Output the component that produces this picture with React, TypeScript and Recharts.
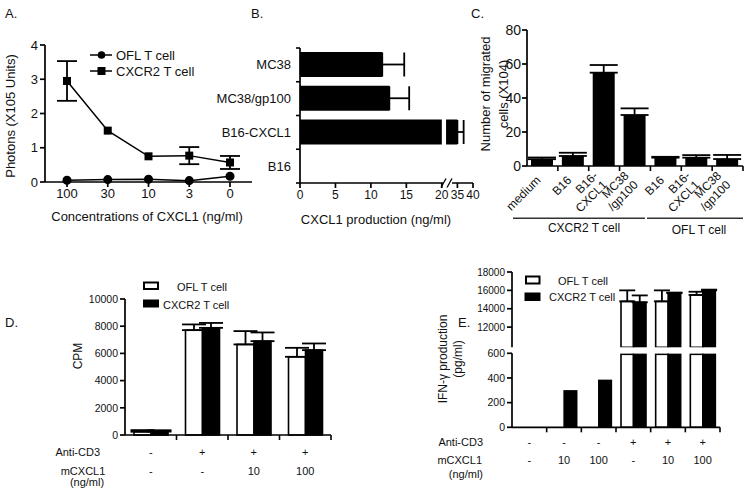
import React from 'react'
import { LineChart, Line, BarChart, Bar, XAxis, YAxis, ErrorBar } from 'recharts'

const FONT = '"Liberation Sans", Arial, sans-serif'
const INK = '#111'
const AX = { stroke: '#000', strokeWidth: 1.7 }

// A. photons vs CXCL1 concentration
const concLabels = ['100', '30', '10', '3', '0']
const oflPhotons = [0.05, 0.07, 0.08, 0.04, 0.17]
const cxcr2Photons = [2.95, 1.5, 0.75, 0.77, 0.57]
const cxcr2PhotonsErr = [0.58, 0, 0, 0.25, 0.19]

// B. CXCL1 production by tumour line (broken axis 20 // 35)
const tumorLines = ['MC38', 'MC38/gp100', 'B16-CXCL1', 'B16']
const cxcl1Prod = [11.6, 12.6, 35.0, 0]
const cxcl1ProdErr = [3.1, 2.8, 2.0, 0]
const prodTicks = [0, 5, 10, 15, 20, 35, 40]
const BREAK_LO = 20
const BREAK_GAP_END = 20.6

// C. migrated cells
const migConds = ['medium', 'B16', 'B16-\nCXCL1', 'MC38\n/gp100', 'B16', 'B16-\nCXCL1', 'MC38\n/gp100']
const migrated = [4, 5.9, 54.9, 30, 4.9, 4.9, 4.1]
const migratedErr = [1.0, 1.9, 4.5, 3.9, 0.5, 1.5, 2.4]

// D. proliferation CPM
const dAnti = ['-', '+', '+', '+']
const dCxcl = ['-', '-', '10', '100']
const oflCpm = [240, 7710, 6660, 5750]
const oflCpmErr = [120, 420, 980, 660]
const cxcr2Cpm = [250, 7880, 6900, 6240]
const cxcr2CpmErr = [100, 360, 640, 490]

// E. IFN-gamma production (broken axis 600 // 10000)
const eAnti = ['-', '-', '-', '+', '+', '+']
const eCxcl = ['-', '10', '100', '-', '10', '100']
const oflIfn = [0, 0, 0, 14800, 14800, 15500]
const oflIfnErr = [0, 0, 0, 1200, 1200, 350]
const cxcr2Ifn = [0, 295, 380, 14700, 15700, 16000]
const cxcr2IfnErr = [0, 0, 0, 750, 60, 80]
const E_UPPER_MIN = 9800

const brk = (v: number) => (v <= BREAK_LO ? v : 22.2 + (v - 35) * 0.44)

const aData = concLabels.map((c, i) => ({
  c,
  ofl: oflPhotons[i],
  cx: cxcr2Photons[i],
  cxErr: cxcr2PhotonsErr[i] || null,
}))

const bData = tumorLines.map((name, i) => {
  const v = cxcl1Prod[i]
  return {
    name,
    raw: v,
    v: brk(v),
    err: cxcl1ProdErr[i] ? [0, brk(v + cxcl1ProdErr[i]) - brk(v)] : null,
  }
})

const cData = migConds.map((k, i) => ({ k: i, v: migrated[i], err: [0, migratedErr[i]] }))

const dData = dAnti.map((a, i) => ({
  k: i,
  ofl: oflCpm[i],
  oflErr: [0, oflCpmErr[i]],
  cx: cxcr2Cpm[i],
  cxErr: [0, cxcr2CpmErr[i]],
}))

const eLow = eAnti.map((a, i) => ({ k: i, ofl: oflIfn[i], cx: cxcr2Ifn[i] }))
const eHigh = eAnti.map((a, i) => ({
  k: i,
  ofl: oflIfn[i] >= E_UPPER_MIN ? oflIfn[i] : null,
  oflErr: oflIfn[i] >= E_UPPER_MIN ? [0, oflIfnErr[i]] : null,
  cx: cxcr2Ifn[i] >= E_UPPER_MIN ? cxcr2Ifn[i] : null,
  cxErr: cxcr2Ifn[i] >= E_UPPER_MIN ? [0, cxcr2IfnErr[i]] : null,
}))

function SquareDot(p: any) {
  return <rect key={`sq-${p.index}`} x={p.cx - 4} y={p.cy - 4} width={8} height={8} fill="#000" />
}

function BrokenBar(p: any) {
  const { x, y, width, height, payload } = p
  if (!width || width <= 0) return null
  if (payload.raw <= BREAK_LO) return <rect x={x} y={y} width={width} height={height} fill="#000" />
  const k = width / payload.v
  const g1 = x + k * BREAK_LO
  const g2 = x + k * BREAK_GAP_END
  return (
    <g>
      <rect x={x} y={y} width={g1 - x} height={height} fill="#000" />
      <rect x={g2} y={y} width={x + width - g2} height={height} fill="#000" />
    </g>
  )
}

const clampedBar = (top: number) => (p: any) => {
  const yy = Math.max(p.y, top)
  const h = p.y + p.height - yy
  if (!(h > 0)) return null
  return <rect x={p.x} y={yy} width={p.width} height={h} fill={p.fill} stroke="#000" strokeWidth={1.6} />
}

const outlinedBar = (p: any) => {
  if (!(p.height > 0)) return null
  return <rect x={p.x} y={p.y} width={p.width} height={p.height} fill={p.fill} stroke="#000" strokeWidth={1.6} />
}

const B_BW = 135 / 4
function TumorTick(p: any) {
  const { x, y, index, payload } = p
  return (
    <g>
      <line x1={x - 4} y1={y - B_BW / 2} x2={x} y2={y - B_BW / 2} stroke="#000" strokeWidth={1.6} />
      {index === tumorLines.length - 1 && (
        <line x1={x - 4} y1={y + B_BW / 2} x2={x} y2={y + B_BW / 2} stroke="#000" strokeWidth={1.6} />
      )}
      <text x={x - 9} y={y + 4.5} textAnchor="end" fontSize={13} fill={INK}>
        {payload.value}
      </text>
    </g>
  )
}

const C_BW = 216 / 7
function MigTick(p: any) {
  const { x, y, index } = p
  const lines = migConds[index].split('\n')
  const n = lines.length
  return (
    <g>
      <line x1={x + C_BW / 2} y1={y} x2={x + C_BW / 2} y2={y + 5} stroke="#000" strokeWidth={1.6} />
      <g transform={`translate(${x - 1},${y + 15}) rotate(-45)`}>
        {lines.map((l, i) => (
          <text key={i} x={0} y={(i - (n - 1) / 2) * 13} textAnchor="end" fontSize={12} fill={INK}>
            {l}
          </text>
        ))}
      </g>
    </g>
  )
}

const rowTick = (r1: string[], r2: string[], bw: number, d1: number, d2: number) => (p: any) => {
  const { x, y, index } = p
  return (
    <g>
      <line x1={x + bw / 2} y1={y} x2={x + bw / 2} y2={y + 5} stroke="#000" strokeWidth={1.6} />
      <text x={x} y={y + d1} textAnchor="middle" fontSize={11} fill={INK}>
        {r1[index]}
      </text>
      <text x={x} y={y + d2} textAnchor="middle" fontSize={11} fill={INK}>
        {r2[index]}
      </text>
    </g>
  )
}

const pos = (left: number, top: number): React.CSSProperties => ({ position: 'absolute', left, top })

export default function App() {
  return (
    <div style={{ position: 'absolute', left: 0, top: 0, width: 750, height: 492, background: '#fff', fontFamily: FONT }}>
      {/* A */}
      <div style={pos(0, 0)}>
        <LineChart width={260} height={240} data={aData} margin={{ top: 45, right: 8, bottom: 28, left: 0 }}>
          <XAxis dataKey="c" height={30} padding={{ left: 22, right: 22 }} axisLine={AX} tickLine={AX} tickSize={5} tick={{ fontSize: 13, fill: INK }} interval={0} />
          <YAxis width={45} domain={[0, 4]} ticks={[0, 1, 2, 3, 4]} axisLine={AX} tickLine={AX} tickSize={5} tick={{ fontSize: 13, fill: INK }} />
          <Line dataKey="ofl" type="linear" stroke="#000" strokeWidth={1.5} dot={{ r: 3.8, fill: '#000', stroke: '#000' }} isAnimationActive={false} />
          <Line dataKey="cx" type="linear" stroke="#000" strokeWidth={1.5} dot={SquareDot} isAnimationActive={false}>
            <ErrorBar dataKey="cxErr" width={10} stroke="#000" strokeWidth={1.8} />
          </Line>
        </LineChart>
      </div>

      {/* B */}
      <div style={pos(200, 0)}>
        <BarChart width={280} height={240} data={bData} layout="vertical" margin={{ top: 48, right: 7, bottom: 27, left: 0 }}>
          <XAxis
            type="number"
            dataKey="v"
            height={30}
            domain={[0, brk(40)]}
            ticks={prodTicks.map(brk)}
            tickFormatter={(v: number, i: number) => String(prodTicks[i])}
            interval={0}
            axisLine={AX}
            tickLine={AX}
            tickSize={5}
            tick={{ fontSize: 12, fill: INK }}
          />
          <YAxis type="category" dataKey="name" width={100} axisLine={AX} tickLine={false} tickSize={0} tickMargin={0} tick={TumorTick} interval={0} />
          <Bar dataKey="v" barSize={25} fill="#000" shape={BrokenBar} isAnimationActive={false}>
            <ErrorBar dataKey="err" width={12} stroke="#000" strokeWidth={1.8} direction="x" />
          </Bar>
        </BarChart>
      </div>

      {/* C */}
      <div style={pos(460, 0)}>
        <BarChart width={290} height={240} data={cData} margin={{ top: 30, right: 7, bottom: 14, left: 0 }}>
          <XAxis dataKey="k" height={60} axisLine={AX} tickLine={false} tickSize={0} tickMargin={0} tick={MigTick} interval={0} />
          <YAxis width={67} domain={[0, 80]} ticks={[0, 20, 40, 60, 80]} axisLine={AX} tickLine={AX} tickSize={5} tickMargin={1} tick={{ fontSize: 14, fill: INK }} />
          <Bar dataKey="v" barSize={22} fill="#000" isAnimationActive={false}>
            <ErrorBar dataKey="err" width={14} stroke="#000" strokeWidth={1.8} />
          </Bar>
        </BarChart>
      </div>

      {/* D */}
      <div style={pos(0, 260)}>
        <BarChart width={340} height={232} data={dData} barGap={0} margin={{ top: 39, right: 9, bottom: 7, left: 0 }}>
          <XAxis dataKey="k" height={50} axisLine={AX} tickLine={false} tickSize={0} tickMargin={0} tick={rowTick(dAnti, dCxcl, 206 / 4, 21, 39.5)} interval={0} />
          <YAxis width={125} domain={[0, 10000]} ticks={[0, 2000, 4000, 6000, 8000, 10000]} axisLine={AX} tickLine={AX} tickSize={5} tick={{ fontSize: 10.5, fill: INK }} />
          <Bar dataKey="ofl" barSize={17} fill="#fff" shape={outlinedBar} isAnimationActive={false}>
            <ErrorBar dataKey="oflErr" width={12} stroke="#000" strokeWidth={1.8} />
          </Bar>
          <Bar dataKey="cx" barSize={17} fill="#000" shape={outlinedBar} isAnimationActive={false}>
            <ErrorBar dataKey="cxErr" width={12} stroke="#000" strokeWidth={1.8} />
          </Bar>
        </BarChart>
      </div>

      {/* E upper segment */}
      <div style={pos(370, 262)}>
        <BarChart width={380} height={86} data={eHigh} barGap={0} margin={{ top: 10, right: 30, bottom: 0.7, left: 0 }}>
          <XAxis dataKey="k" hide />
          <YAxis width={142} domain={[E_UPPER_MIN, 18000]} allowDataOverflow ticks={[10000, 12000, 14000, 16000, 18000]} axisLine={AX} tickLine={AX} tickSize={5} tick={{ fontSize: 10, fill: INK }} />
          <Bar dataKey="ofl" barSize={12.5} fill="#fff" shape={outlinedBar} isAnimationActive={false}>
            <ErrorBar dataKey="oflErr" width={8} stroke="#000" strokeWidth={1.8} />
          </Bar>
          <Bar dataKey="cx" barSize={12.5} fill="#000" shape={outlinedBar} isAnimationActive={false}>
            <ErrorBar dataKey="cxErr" width={8} stroke="#000" strokeWidth={1.8} />
          </Bar>
        </BarChart>
      </div>

      {/* E lower segment */}
      <div style={pos(370, 348)}>
        <BarChart width={380} height={144} data={eLow} barGap={0} margin={{ top: 5.3, right: 30, bottom: 14.7, left: 0 }}>
          <XAxis dataKey="k" height={50} axisLine={AX} tickLine={false} tickSize={0} tickMargin={0} tick={rowTick(eAnti, eCxcl, 208 / 6, 18.2, 36.5)} interval={0} />
          <YAxis width={142} domain={[0, 600]} allowDataOverflow ticks={[0, 200, 400, 600]} axisLine={AX} tickLine={AX} tickSize={5} tick={{ fontSize: 10.5, fill: INK }} />
          <Bar dataKey="ofl" barSize={12.5} fill="#fff" shape={clampedBar(6.3)} isAnimationActive={false} />
          <Bar dataKey="cx" barSize={12.5} fill="#000" shape={clampedBar(6.3)} isAnimationActive={false} />
        </BarChart>
      </div>

      {/* titles, legends and break marks */}
      <svg width={750} height={492} style={{ position: 'absolute', left: 0, top: 0, pointerEvents: 'none' }} fontFamily={FONT} fill={INK}>
        <text x={5} y={18} fontSize={13}>A.</text>
        <text x={251} y={18} fontSize={13}>B.</text>
        <text x={471} y={18} fontSize={13}>C.</text>
        <text x={5} y={327} fontSize={13}>D.</text>
        <text x={458} y={327} fontSize={13}>E.</text>

        {/* A */}
        <line x1={90} y1={55} x2={112} y2={55} stroke="#000" strokeWidth={1.5} />
        <circle cx={101.5} cy={55} r={3.8} fill="#000" />
        <text x={116} y={59.5} fontSize={13}>OFL T cell</text>
        <line x1={90} y1={71} x2={112} y2={71} stroke="#000" strokeWidth={1.5} />
        <rect x={97.5} y={67} width={8} height={8} fill="#000" />
        <text x={116} y={75.5} fontSize={13}>CXCR2 T cell</text>
        <text transform="translate(14.5,116) rotate(-90)" textAnchor="middle" fontSize={13}>Photons (X105 Units)</text>
        <text x={147} y={221} textAnchor="middle" fontSize={13}>Concentrations of CXCL1 (ng/ml)</text>

        {/* B */}
        <text x={376} y={223.5} textAnchor="middle" fontSize={13}>CXCL1 production (ng/ml)</text>
        <rect x={443} y={179} width={9} height={8} fill="#fff" />
        <line x1={441} y1={187.5} x2={446} y2={178.5} stroke="#000" strokeWidth={1.3} />
        <line x1={447} y1={187.5} x2={452} y2={178.5} stroke="#000" strokeWidth={1.3} />

        {/* C */}
        <text transform="translate(489.5,94) rotate(-90)" textAnchor="middle" fontSize={13}>Number of migrated</text>
        <text transform="translate(507.5,94) rotate(-90)" textAnchor="middle" fontSize={13}>cells (X104)</text>
        <line x1={513} y1={218.3} x2={645} y2={218.3} stroke="#333" strokeWidth={1.4} />
        <line x1={647} y1={218.3} x2={743} y2={218.3} stroke="#333" strokeWidth={1.4} />
        <text x={584} y={231.5} textAnchor="middle" fontSize={12}>CXCR2 T cell</text>
        <text x={699} y={234} textAnchor="middle" fontSize={12}>OFL T cell</text>

        {/* D */}
        <text transform="translate(82,356) rotate(-90)" textAnchor="middle" fontSize={12}>CPM</text>
        <rect x={144} y={282.5} width={14} height={6.5} fill="#fff" stroke="#000" strokeWidth={2} />
        <text x={177} y={291} fontSize={11}>OFL T cell</text>
        <rect x={143} y={299.5} width={16} height={8} fill="#000" />
        <text x={163} y={309} fontSize={11}>CXCR2 T cell</text>
        <text x={100} y={455.5} textAnchor="end" fontSize={11}>Anti-CD3</text>
        <text x={83} y={474.5} textAnchor="middle" fontSize={11}>mCXCL1</text>
        <text x={87} y={486} textAnchor="middle" fontSize={11}>(ng/ml)</text>

        {/* E */}
        <text transform="translate(446.5,359) rotate(-90)" textAnchor="middle" fontSize={12}>IFN-γ production</text>
        <text transform="translate(462,359) rotate(-90)" textAnchor="middle" fontSize={12}>(pg/ml)</text>
        <rect x={526} y={276.5} width={13.5} height={7} fill="#fff" stroke="#000" strokeWidth={2} />
        <text x={558} y={284.5} fontSize={11}>OFL T cell</text>
        <rect x={524.5} y={292.5} width={16} height={8.5} fill="#000" />
        <text x={549} y={300.5} fontSize={11}>CXCR2 T cell</text>
        <text x={483} y={445.5} textAnchor="end" fontSize={11}>Anti-CD3</text>
        <text x={482} y={464} textAnchor="end" fontSize={11}>mCXCL1</text>
        <text x={483} y={477.5} textAnchor="end" fontSize={11}>(ng/ml)</text>
      </svg>
    </div>
  )
}
